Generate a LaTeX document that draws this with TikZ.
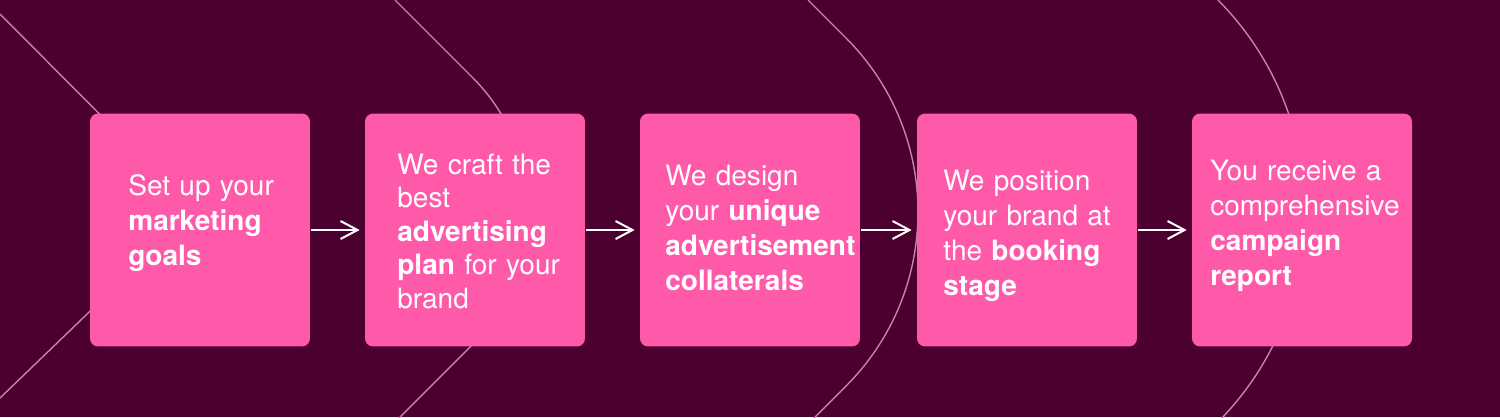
\documentclass[tikz,border=0pt]{standalone}
\usepackage{fontspec}
\setmainfont{TeX Gyre Heros}
\usetikzlibrary{arrows.meta}

\definecolor{plum}{HTML}{4B0030}
\definecolor{rose}{HTML}{FF5AAA}
\definecolor{wire}{HTML}{C283AE}

\begin{document}
\begin{tikzpicture}[x=0.02cm, y=-0.02cm,
    box/.style={fill=rose, minimum width=4.4cm, minimum height=4.66cm, inner sep=0pt, rounded corners=0.16cm},
    txt/.style={anchor=base west, inner sep=0pt, text=white, text width=4.2cm, align=left, font=\fontsize{15.94pt}{19.92pt}\selectfont},
    arr/.style={-{Straight Barb[length=0.34cm, width=0.36cm]}, white, line width=0.04cm, shorten <=0.02cm, shorten >=0.1cm},
    wave/.style={wire, line width=0.8pt},
  ]

  % --- Background ---
  \fill[plum] (0,0) rectangle (1500,417);
  \begin{scope}
    \clip (0,0) rectangle (1500,417);
    \draw[wave] (0,14) -- (195,210) -- (0,398);
    \draw[wave] (395,0) -- (473,78) .. controls (546,151) and (546,271) .. (473,344) -- (395,422);
    \draw[wave] (808,0) -- (846,38) .. controls (942,134) and (942,290) .. (846,386) -- (808,424);
    \draw[wave] (1217,-1) .. controls (1334,116) and (1334,306) .. (1217,423);
  \end{scope}

  % --- Steps ---
  \node[box] (s1) at (200,230) {};
  \node[box] (s2) at (475,230) {};
  \node[box] (s3) at (750,230) {};
  \node[box] (s4) at (1027,230) {};
  \node[box] (s5) at (1302,230) {};

  % --- Step texts ---
  \node[txt] (t1) at (128,195) {Set up your\\ \textbf{marketing}\\ \textbf{goals}};
  \node[txt, font=\fontsize{15.94pt}{19.1pt}\selectfont] (t2) at (397,174) {We craft the\\ best\\ \textbf{advertising}\\ \textbf{plan} for your\\ brand};
  \node[txt] (t3) at (665,185) {We design\\ your \textbf{unique}\\ \textbf{advertisement}\\ \textbf{collaterals}};
  \node[txt] (t4) at (943,190) {We position\\ your brand at\\ the \textbf{booking}\\ \textbf{stage}};
  \node[txt] (t5) at (1210,180) {You receive a\\ comprehensive\\ \textbf{campaign}\\ \textbf{report}};

  % --- Arrows ---
  \draw[arr] (s1.east) -- (s2.west);
  \draw[arr] (s2.east) -- (s3.west);
  \draw[arr] (s3.east) -- (s4.west);
  \draw[arr] (s4.east) -- (s5.west);

\end{tikzpicture}
\end{document}
